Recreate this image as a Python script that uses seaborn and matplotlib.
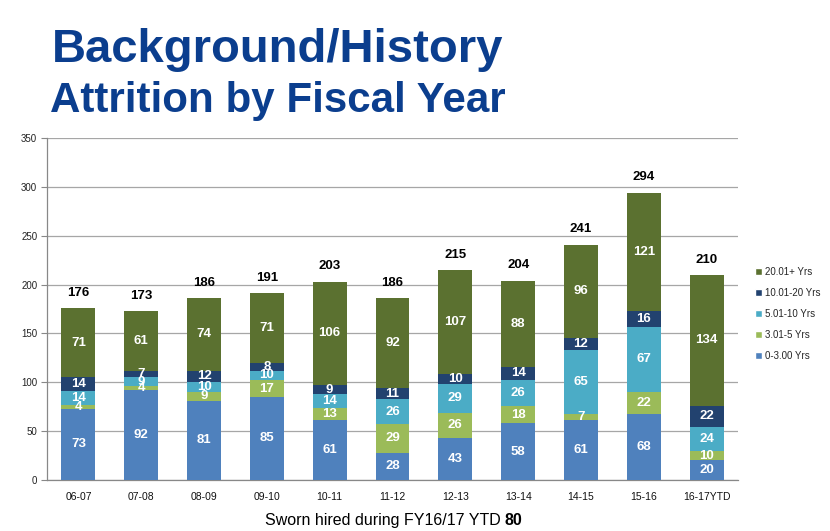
import numpy as np
import pandas as pd
import matplotlib
matplotlib.use("Agg")
import matplotlib.pyplot as plt
import seaborn as sns
from matplotlib.patches import Patch

# ---- data ----
years = ["06-07", "07-08", "08-09", "09-10", "10-11", "11-12",
         "12-13", "13-14", "14-15", "15-16", "16-17YTD"]
yrs_0_3 = [73, 92, 81, 85, 61, 28, 43, 58, 61, 68, 20]
yrs_3_5 = [4, 4, 9, 17, 13, 29, 26, 18, 7, 22, 10]
yrs_5_10 = [14, 9, 10, 10, 14, 26, 29, 26, 65, 67, 24]
yrs_10_20 = [14, 7, 12, 8, 9, 11, 10, 14, 12, 16, 22]
yrs_20p = [71, 61, 74, 71, 106, 92, 107, 88, 96, 121, 134]
totals = [176, 173, 186, 191, 203, 186, 215, 204, 241, 294, 210]
series_names = ["0-3.00 Yrs", "3.01-5 Yrs", "5.01-10 Yrs", "10.01-20 Yrs", "20.01+ Yrs"]
y_ticks = [0, 50, 100, 150, 200, 250, 300, 350]
hired_ytd = 80

colors = ["#4F81BD", "#9BBB59", "#4BACC6", "#22426F", "#5B7130"]

sns.set_style("white")
plt.rcParams["font.family"] = ["Liberation Sans", "DejaVu Sans"]
narrow = ["Liberation Sans Narrow", "Liberation Sans", "DejaVu Sans"]

layers = np.array([yrs_0_3, yrs_3_5, yrs_5_10, yrs_10_20, yrs_20p])
cum = np.cumsum(layers, axis=0)

fig = plt.figure(figsize=(8.3, 5.31), dpi=100)
ax = fig.add_axes([47 / 830, 1 - 480 / 531, (738 - 47) / 830, (480 - 138) / 531])

for i in reversed(range(len(series_names))):
    df = pd.DataFrame({"year": years, "value": cum[i]})
    sns.barplot(data=df, x="year", y="value", order=years, color=colors[i],
                saturation=1, width=0.54, errorbar=None, linewidth=0, ax=ax, zorder=3)

# segment labels
for i in range(len(series_names)):
    for j in range(len(years)):
        v = layers[i][j]
        ax.text(j, cum[i][j] - v / 2, str(v), ha="center", va="center",
                color="white", fontweight="bold", fontsize=9.5, family=narrow, zorder=5)

# totals
for j, t in enumerate(totals):
    ax.annotate(str(t), (j, t), xytext=(0, 11), textcoords="offset points",
                ha="center", va="center", fontweight="bold", fontsize=9.5,
                family=narrow, color="black", zorder=5)

ax.set_ylim(0, 350)
ax.set_xlim(-0.5, len(years) - 0.5)
ax.set_yticks(y_ticks)
ax.set_yticklabels([str(v) for v in y_ticks], fontsize=7, family=narrow, color="#222222")
ax.set_xticks(range(len(years)))
ax.set_xticklabels(years, fontsize=7.5, family=narrow, color="#111111")
ax.set_xticks(np.arange(-0.5, len(years), 1), minor=True)
ax.tick_params(axis="x", which="major", length=0, pad=9)
ax.tick_params(axis="x", which="minor", length=4, color="#888888", width=0.8, direction="out")
ax.tick_params(axis="y", length=4, color="#888888", width=0.8, direction="out", left=True, pad=3)
ax.set_xlabel("")
ax.set_ylabel("")
ax.yaxis.grid(True, color="#A6A6A6", linewidth=0.9, zorder=0)
ax.set_axisbelow(True)
for s in ["top", "right"]:
    ax.spines[s].set_visible(False)
for s in ["left", "bottom"]:
    ax.spines[s].set_color("#888888")
    ax.spines[s].set_linewidth(0.9)

# legend
handles = [Patch(facecolor=colors[i], label=series_names[i]) for i in reversed(range(5))]
fig.legend(handles=handles, loc="upper left", bbox_to_anchor=(755 / 830, 1 - 267 / 531),
           frameon=False, fontsize=7, handlelength=0.75, handleheight=0.75,
           handletextpad=0.3, labelspacing=1.12, borderaxespad=0, borderpad=0)

# titles
title_color = "#0B3E8E"
fig.text(52 / 830, 1 - 62 / 531, "Background/History", fontsize=34, fontweight="bold",
         color=title_color, ha="left", va="baseline")
fig.text(50 / 830, 1 - 112 / 531, "Attrition by Fiscal Year", fontsize=30.3, fontweight="bold",
         color=title_color, ha="left", va="baseline")

# footer
t1 = fig.text(265 / 830, 1 - 525 / 531, "Sworn hired during FY16/17 YTD", fontsize=11.5,
              ha="left", va="baseline", color="black")
fig.canvas.draw()
bb = t1.get_window_extent()
fig.text((bb.x1 + 4) / fig.bbox.width, 1 - 525 / 531, str(hired_ytd), fontsize=11.5,
         fontweight="bold", ha="left", va="baseline", color="black")

fig.savefig("out.png", dpi=100)
